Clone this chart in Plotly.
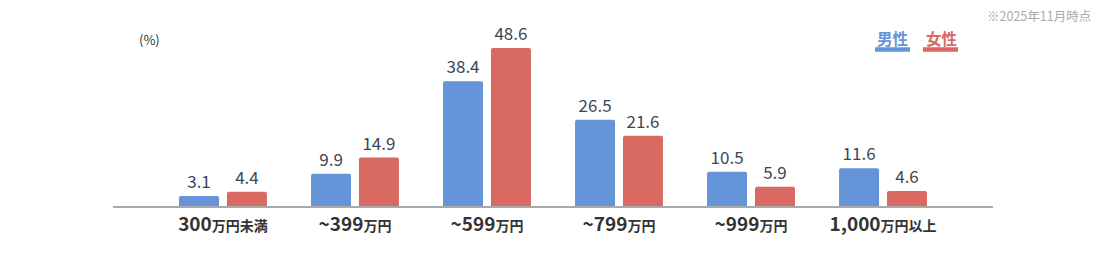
import plotly.graph_objects as go

categories = ["300万円未満", "~399万円", "~599万円", "~799万円", "~999万円", "1,000万円以上"]
tick_main = ["300", "~399", "~599", "~799", "~999", "1,000"]
tick_unit = ["万円未満", "万円", "万円", "万円", "万円", "万円以上"]
male = [3.1, 9.9, 38.4, 26.5, 10.5, 11.6]
female = [4.4, 14.9, 48.6, 21.6, 5.9, 4.6]

BLUE = "#6694D9"
RED = "#D96A62"
FONT = "Noto Sans CJK JP"
xs = list(range(len(categories)))

fig = go.Figure()
fig.add_trace(go.Bar(
    x=xs, y=male, name="男性", marker=dict(color=BLUE, line=dict(width=0)),
    width=0.303, offset=-0.333,
    text=[f"{v:.1f}" for v in male], textposition="outside",
    textfont=dict(size=17, color="#3d4557", family=FONT), cliponaxis=False,
))
fig.add_trace(go.Bar(
    x=xs, y=female, name="女性", marker=dict(color=RED, line=dict(width=0)),
    width=0.303, offset=0.030,
    text=[f"{v:.1f}" for v in female], textposition="outside",
    textfont=dict(size=17, color="#3d4557", family=FONT), cliponaxis=False,
))

ticktext = [f"<b>{m}</b><span style='font-size:14px'><b>{u}</b></span>" for m, u in zip(tick_main, tick_unit)]

W, H = 1106, 257
l, r, t, b = 113, 113, 30, 51
pw, ph = W - l - r, H - t - b

def px_x(x):
    return (x - l) / pw

def px_y(y):
    return (H - b - y) / ph

fig.update_layout(
    width=W, height=H,
    margin=dict(l=l, r=r, t=t, b=b),
    paper_bgcolor="white", plot_bgcolor="white",
    showlegend=False,
    barcornerradius=2,
    font=dict(family=FONT, color="#333333"),
    xaxis=dict(
        range=[-0.833, 5.833], tickmode="array", tickvals=xs, ticktext=ticktext,
        tickfont=dict(size=19, color="#333333", family=FONT),
        showgrid=False, zeroline=False, showline=True, linecolor="#aaaaaa", linewidth=1.5,
        ticks="", ticklen=0, ticklabelstandoff=0,
    ),
    yaxis=dict(range=[0, 54.15], visible=False, showgrid=False, zeroline=False),
)

annotations = [
    dict(text="(%)", x=137, y=40, font=dict(size=13, color="#333333", family=FONT), xanchor="left"),
    dict(text="※2025年11月時点", x=1093, y=15, font=dict(size=12.5, color="#aaaaaa", family=FONT), xanchor="right"),
    dict(text="<b>男性</b>", x=892, y=38, font=dict(size=15.5, color=BLUE, family=FONT), xanchor="center"),
    dict(text="<b>女性</b>", x=941, y=38, font=dict(size=15.5, color=RED, family=FONT), xanchor="center"),
]
for a in annotations:
    fig.add_annotation(text=a["text"], x=px_x(a["x"]), y=px_y(a["y"]), xref="paper", yref="paper",
                       showarrow=False, font=a["font"], xanchor=a["xanchor"], yanchor="middle")

for x0, x1, c in [(875, 910, BLUE), (923, 958, RED)]:
    fig.add_shape(type="line", xref="paper", yref="paper",
                  x0=px_x(x0), x1=px_x(x1), y0=px_y(49.5), y1=px_y(49.5),
                  line=dict(color=c, width=4.5))

fig.write_html("out.html")
